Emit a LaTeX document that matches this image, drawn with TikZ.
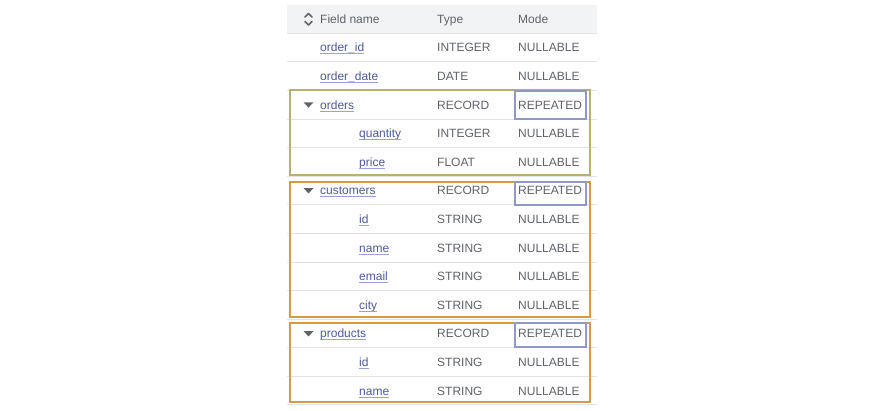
\documentclass[tikz,border=0pt]{standalone}
\usepackage{fontspec}
\setmainfont{Liberation Sans}
\definecolor{hdrbg}{HTML}{F1F3F4}
\definecolor{sepc}{HTML}{E3E3E3}
\definecolor{fieldc}{HTML}{4E5A98}
\definecolor{ulc}{HTML}{9AA3CF}
\definecolor{typec}{HTML}{5F6368}
\definecolor{olivec}{HTML}{B8B16E}
\definecolor{orangec}{HTML}{D49A48}
\definecolor{bluec}{HTML}{8E99C8}
\begin{document}
\begin{tikzpicture}[x=1pt,y=-1pt,
  txt/.style={anchor=base west,inner sep=0pt,font=\fontsize{12}{14}\selectfont,text=typec},
  fld/.style={txt,text=fieldc},
  hdr/.style={txt,text=typec},
  sep/.style={draw=sepc,line width=0.8pt},
  ul/.style={draw=ulc,line width=0.9pt},
  grpbox/.style={line width=2pt},
  repbox/.style={draw=bluec,line width=1.8pt},
  tri/.style={fill=typec,draw=none}]
\useasboundingbox (0,0) rectangle (873,411);
% header band
\fill[hdrbg] (287,5) rectangle (597,33);
% row separators
\foreach \i in {1,...,13}
  \draw[sep] (287,{19+28.6*\i-14.3}) -- (597,{19+28.6*\i-14.3});
\draw[sep] (287,404.7) -- (597,404.7);
% sort icon
\draw[typec,line width=1.6pt,line cap=round,line join=round] (305,17) -- (308.5,13.5) -- (312,17);
\draw[typec,line width=1.6pt,line cap=round,line join=round] (305,21.5) -- (308.5,25) -- (312,21.5);
% header texts
\node[hdr] (hf) at (320,23.3) {Field name};
\node[hdr] (ht) at (437,23.3) {Type};
\node[hdr] (hm) at (518,23.3) {Mode};
% rows
\foreach \name/\fx/\typ/\mode/\i in {
  order_id/320/INTEGER/NULLABLE/1,
  order_date/320/DATE/NULLABLE/2,
  orders/320/RECORD/REPEATED/3,
  quantity/359/INTEGER/NULLABLE/4,
  price/359/FLOAT/NULLABLE/5,
  customers/320/RECORD/REPEATED/6,
  id/359/STRING/NULLABLE/7,
  name/359/STRING/NULLABLE/8,
  email/359/STRING/NULLABLE/9,
  city/359/STRING/NULLABLE/10,
  products/320/RECORD/REPEATED/11,
  id/359/STRING/NULLABLE/12,
  name/359/STRING/NULLABLE/13}{
  \node[fld] (f\i) at (\fx,{19+28.6*\i+4.3}) {\detokenize\expandafter{\name}};
  \draw[ul] ([yshift=-2pt]f\i.base west) -- ([yshift=-2pt]f\i.base east);
  \node[txt] (t\i) at (437,{19+28.6*\i+4.3}) {\typ};
  \node[txt] (m\i) at (518,{19+28.6*\i+4.3}) {\mode};
}
% expand triangles
\foreach \i in {3,6,11}
  \fill[tri] (303.5,{19+28.6*\i-2.5}) -- (313.5,{19+28.6*\i-2.5}) -- (308.5,{19+28.6*\i+2.8}) -- cycle;
% group boxes
\draw[grpbox,draw=olivec] (290,90.5) rectangle (590,175);
\draw[grpbox,draw=orangec] (290,182) rectangle (590,317);
\draw[grpbox,draw=orangec] (290,323) rectangle (590,402);
% REPEATED boxes
\draw[repbox] (515,91) rectangle (586,119);
\draw[repbox] (515,182) rectangle (586,205);
\draw[repbox] (515,323) rectangle (586,347);
\end{tikzpicture}
\end{document}
